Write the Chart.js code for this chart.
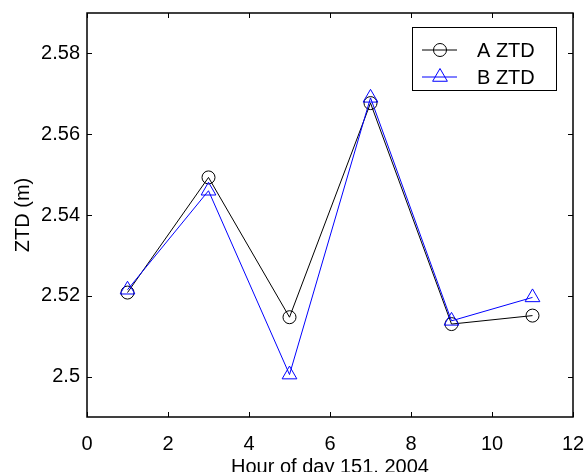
<!DOCTYPE html>
<html lang="en">
<head>
    <meta charset="UTF-8">
    <title>ZTD comparison</title>
    <script src="https://cdn.jsdelivr.net/npm/chart.js"></script>
    <style>
        html, body { margin: 0; padding: 0; background: #fff; }
        #wrap { width: 587px; height: 472px; }
    </style>
</head>
<body>
    <div id="wrap"><canvas id="ztdChart"></canvas></div>

    <script>
        // values
        const hours = [1, 3, 5, 7, 9, 11];
        const ztdA = [2.5208, 2.5493, 2.5147, 2.5677, 2.5130, 2.5151];
        const ztdB = [2.5215, 2.5460, 2.5005, 2.5690, 2.5138, 2.5196];
        const seriesNames = ['A ZTD', 'B ZTD'];
        const xTicks = [0, 2, 4, 6, 8, 10, 12];
        const yTicks = [2.50, 2.52, 2.54, 2.56, 2.58];

        const FONT = 'Liberation Sans, Arial, Helvetica, sans-serif';

        // matlab style box with inward ticks on all four sides, plus the legend
        const boxPlugin = {
            id: 'matlabBox',
            afterDraw(chart) {
                const ctx = chart.ctx;
                const a = chart.chartArea;
                const xs = chart.scales.x, ys = chart.scales.y;
                const tl = 5;
                ctx.save();
                ctx.strokeStyle = '#000';
                ctx.lineWidth = 1.5;
                ctx.strokeRect(a.left, a.top, a.right - a.left, a.bottom - a.top);
                ctx.lineWidth = 1;
                ctx.beginPath();
                xTicks.forEach(v => {
                    const px = Math.round(xs.getPixelForValue(v)) + 0.5;
                    ctx.moveTo(px, a.bottom); ctx.lineTo(px, a.bottom - tl);
                    ctx.moveTo(px, a.top); ctx.lineTo(px, a.top + tl);
                });
                yTicks.forEach(v => {
                    const py = Math.round(ys.getPixelForValue(v)) + 0.5;
                    ctx.moveTo(a.left, py); ctx.lineTo(a.left + tl, py);
                    ctx.moveTo(a.right, py); ctx.lineTo(a.right - tl, py);
                });
                ctx.stroke();

                // legend
                const lx = 412.5, ly = 27.5, lw = 144, lh = 63;
                ctx.fillStyle = '#fff';
                ctx.fillRect(lx, ly, lw, lh);
                ctx.strokeRect(lx, ly, lw, lh);
                chart.data.datasets.forEach((ds, i) => {
                    const cy = 50 + i * 27;
                    ctx.strokeStyle = ds.borderColor;
                    ctx.lineWidth = 1;
                    ctx.beginPath();
                    ctx.moveTo(422, cy); ctx.lineTo(457, cy);
                    ctx.stroke();
                    ctx.beginPath();
                    const r = ds.pointRadius;
                    if (ds.pointStyle === 'triangle') {
                        for (let k = 0; k < 3; k++) {
                            const ang = k * 2 * Math.PI / 3;
                            const px = 440 + Math.sin(ang) * r, py = cy - Math.cos(ang) * r;
                            k ? ctx.lineTo(px, py) : ctx.moveTo(px, py);
                        }
                        ctx.closePath();
                    } else {
                        ctx.arc(440, cy, r, 0, Math.PI * 2);
                    }
                    ctx.stroke();
                    ctx.fillStyle = '#000';
                    ctx.font = '20px ' + FONT;
                    ctx.textBaseline = 'middle';
                    ctx.textAlign = 'left';
                    ctx.fillText(ds.label, 477, cy + 1);
                });
                ctx.restore();
            }
        };

        const ctx = document.getElementById('ztdChart').getContext('2d');
        const ztdChart = new Chart(ctx, {
            type: 'line',
            data: {
                datasets: [
                    {
                        label: seriesNames[0],
                        data: hours.map((h, i) => ({x: h, y: ztdA[i]})),
                        borderColor: '#000000',
                        backgroundColor: 'rgba(0,0,0,0)',
                        borderWidth: 1,
                        pointStyle: 'circle',
                        pointRadius: 6.5,
                        pointBorderWidth: 1,
                        tension: 0,
                        order: 1
                    },
                    {
                        label: seriesNames[1],
                        data: hours.map((h, i) => ({x: h, y: ztdB[i]})),
                        borderColor: '#0000ff',
                        backgroundColor: 'rgba(0,0,0,0)',
                        borderWidth: 1,
                        pointStyle: 'triangle',
                        pointRadius: 8.5,
                        pointBorderWidth: 1,
                        tension: 0,
                        order: 0
                    }
                ]
            },
            options: {
                responsive: true,
                maintainAspectRatio: false,
                animation: false,
                layout: { padding: { top: 13, right: 14, left: 0, bottom: 0 } },
                plugins: {
                    legend: { display: false },
                    tooltip: { enabled: false }
                },
                scales: {
                    x: {
                        type: 'linear',
                        min: 0,
                        max: 12,
                        afterBuildTicks: s => { s.ticks = xTicks.map(v => ({value: v})); },
                        afterFit: s => {
                            s.height = 55;
                            s.paddingLeft = 0;
                            s.paddingRight = 0;
                        },
                        grid: { display: false, drawTicks: false },
                        border: { display: false },
                        ticks: {
                            color: '#000',
                            padding: 15,
                            maxRotation: 0,
                            font: { family: FONT, size: 20 }
                        },
                        title: {
                            display: true,
                            text: 'Hour of day 151, 2004',
                            color: '#000',
                            padding: { top: 0, bottom: 0 },
                            font: { family: FONT, size: 20, lineHeight: 0.45 }
                        }
                    },
                    y: {
                        type: 'linear',
                        min: 2.49,
                        max: 2.59,
                        afterBuildTicks: s => { s.ticks = yTicks.map(v => ({value: v})); },
                        afterFit: s => {
                            s.width = 87;
                            s.paddingTop = 0;
                            s.paddingBottom = 0;
                        },
                        grid: { display: false, drawTicks: false },
                        border: { display: false },
                        ticks: {
                            color: '#000',
                            padding: 7,
                            font: { family: FONT, size: 20 },
                            callback: v => String(+v.toFixed(2))
                        },
                        title: {
                            display: true,
                            text: 'ZTD (m)',
                            color: '#000',
                            padding: { top: 11, bottom: 0 },
                            font: { family: FONT, size: 20 }
                        }
                    }
                }
            },
            plugins: [boxPlugin]
        });
    </script>
</body>
</html>
